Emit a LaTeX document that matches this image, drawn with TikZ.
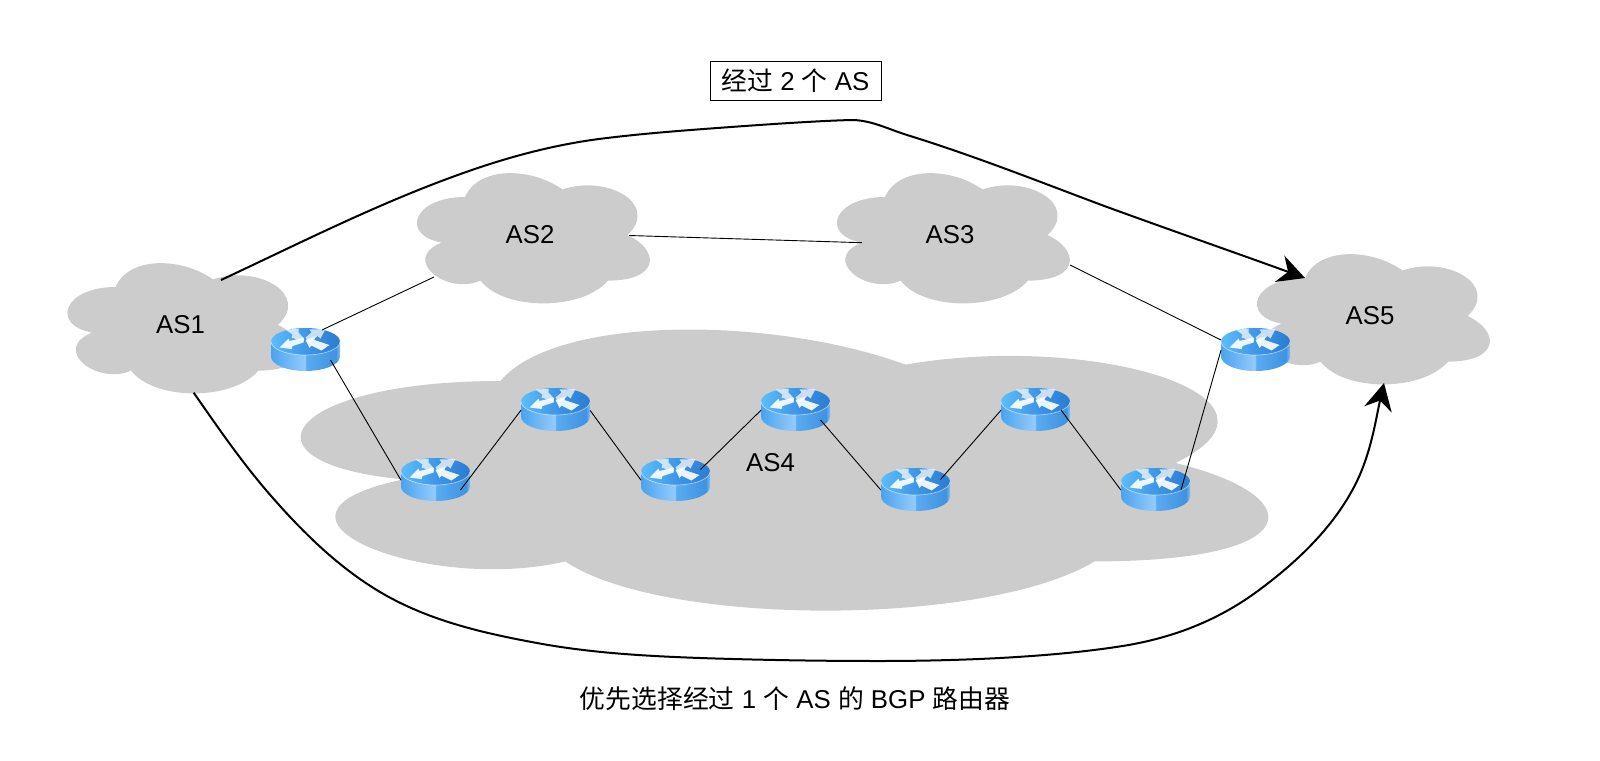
\documentclass[tikz,border=0pt]{standalone}
\usepackage{fontspec}
\setmainfont{Liberation Sans}
\newfontfamily\cjk{Noto Sans CJK SC}
\usetikzlibrary{arrows.meta}

\definecolor{cloudgray}{HTML}{CCCCCC}
\definecolor{routerA}{HTML}{4AA3EF}
\definecolor{routerB}{HTML}{93CBFB}
\definecolor{routerC}{HTML}{5AABF0}
\definecolor{routerD}{HTML}{3F97E8}
\definecolor{routerE}{HTML}{3F93E0}
\definecolor{routerF}{HTML}{5CBDFB}
\definecolor{routerG}{HTML}{2A7CD0}
\definecolor{routerH}{HTML}{86BFF2}

\pgfdeclarehorizontalshading{routerside}{100bp}{color(0bp)=(routerA); color(25bp)=(routerA); color(49.5bp)=(routerB); color(50.5bp)=(routerC); color(72bp)=(routerE); color(75bp)=(routerH); color(100bp)=(routerH)}
\pgfdeclarehorizontalshading{routertop}{100bp}{color(0bp)=(routerF); color(25bp)=(routerF); color(50bp)=(routerD); color(75bp)=(routerG); color(100bp)=(routerG)}

\tikzset{
    link/.style={black, line width=0.9pt},
    route/.style={black, line width=2pt, -{Stealth[length=27pt,width=28pt,inset=9pt]}},
    aslabel/.style={font=\fontsize{25.8}{30}\selectfont, inner sep=0pt},
    routerarrow/.style={fill=white, fill opacity=0.9},
    router/.pic={
        \shade[shading=routerside] (-34.5,-8) -- (-34.5,7)
            arc[start angle=180, end angle=0, x radius=34.5, y radius=14.5]
            -- (34.5,-8) -- cycle;
        \shade[shading=routertop] (0,-8) ellipse[x radius=34.5, y radius=13.5];
        \draw[white, opacity=0.55, line width=0.7pt] (-34.5,-8)
            arc[start angle=180, end angle=0, x radius=34.5, y radius=13.5];
        \fill[routerarrow, fill opacity=0.72] (-20,-20) -- (-7,-20.5) -- (-7,-17) -- (-1.5,-11) -- (-2,-8) -- (-14,-12) -- (-13,-15) -- cycle;
        \fill[routerarrow, fill opacity=0.72] (0,-12) -- (6,-17) -- (4,-20) -- (20,-20.5) -- (15,-11) -- (12,-13.5) -- (4,-6.5) -- cycle;
        \fill[routerarrow] (-26,-2) -- (-17,-11) -- (-16,-8.5) -- (-2,-12) -- (-2,-7) -- (-13,-3.5) -- (-14,-0.5) -- cycle;
        \fill[routerarrow] (0,-9.5) -- (10,-13) -- (9,-9.5) -- (24,-4.5) -- (16,1) -- (6,-4) -- (4,-1.5) -- cycle;
        \coordinate (-west) at (-34.5,0.7);
        \coordinate (-nwest) at (-34.5,-9.5);
        \coordinate (-top) at (16.5,-19.5);
        \coordinate (-east) at (34.7,1);
        \coordinate (-ne) at (25,-10);
        \coordinate (-mid) at (25.5,0.5);
        \coordinate (-se) at (25,10.5);
    }
}

% cloud: name, centre x, centre y, width, height, text
\newcommand{\ascloud}[6]{
    \begin{scope}[shift={(#2,#3)}, x=#4pt, y=-#5pt, shift={(-0.5,-0.5)}]
        \fill[cloudgray] (0.25,0.25)
            .. controls (0.05,0.25) and (0,0.5) .. (0.16,0.55)
            .. controls (0,0.66) and (0.18,0.9) .. (0.31,0.8)
            .. controls (0.4,1) and (0.7,1) .. (0.8,0.8)
            .. controls (1,0.8) and (1,0.6) .. (0.875,0.5)
            .. controls (1,0.3) and (0.8,0.1) .. (0.625,0.2)
            .. controls (0.5,0.05) and (0.3,0.05) .. (0.25,0.25) -- cycle;
    \end{scope}
    \node[aslabel] (#1) at (#2,#3) {#6};
}

\begin{document}
\begin{tikzpicture}[x=1pt, y=-1pt]

    \useasboundingbox (0,0) rectangle (1600,760);

    \ascloud{as4}{770.5}{463}{1080}{328}{AS4}
    \ascloud{as1}{180.5}{325}{260}{152}{AS1}
    \ascloud{as2}{530}{235}{260}{152}{AS2}
    \ascloud{as3}{950}{235}{260}{152}{AS3}
    \ascloud{as5}{1370}{316}{260}{152}{AS5}

    % #######################################

    \pic (r0) at (305.5,349.5) {router};
    \pic (r1) at (435.5,479.5) {router};
    \pic (r2) at (555.5,409.5) {router};
    \pic (r3) at (675.5,479.5) {router};
    \pic (r4) at (795.5,409.5) {router};
    \pic (r5) at (915.5,489.5) {router};
    \pic (r6) at (1035.5,409.5) {router};
    \pic (r7) at (1155.5,489.5) {router};
    \pic (r8) at (1255.5,349.5) {router};

    % #######################################

    \coordinate (as1top) at (221,280);
    \coordinate (as1bot) at (193.7,392.7);
    \coordinate (as2west) at (434,277);
    \coordinate (as2east) at (629,235.5);
    \coordinate (as3west) at (862,242.7);
    \coordinate (as3east) at (1070,265);
    \coordinate (as5west) at (1305,278);
    \coordinate (as5bot) at (1384,383);

    \draw[link] (r0-top) -- (as2west);
    \draw[link] (as2east) -- (as3west);
    \draw[link] (as3east) -- (r8-nwest);

    \draw[link] (r0-se) -- (r1-west);
    \draw[link] (r1-se) -- (r2-west);
    \draw[link] (r2-east) -- (r3-west);
    \draw[link] (r3-ne) -- (r4-west);
    \draw[link] (r4-se) -- (r5-west);
    \draw[link] (r5-ne) -- (r6-west);
    \draw[link] (r6-mid) -- (r7-west);
    \draw[link] (r7-mid) -- (r8-west);

    % #######################################

    \draw[route] (as1top) .. controls (298,244) and (375,205) .. (455,176)
        .. controls (504,158) and (555,144) .. (607,138)
        .. controls (648,133) and (690,130) .. (731,127)
        .. controls (772,124) and (825,120.5) .. (853,120)
        .. controls (872,120.5) and (889,129.4) .. (907,135)
        .. controls (975,156) and (1040,182) .. (1107,207)
        .. controls (1173,231) and (1239,254) .. (as5west);

    \draw[route] (as1bot) .. controls (219,429) and (243,464) .. (272,497)
        .. controls (307,537) and (347,575.5) .. (394.5,600)
        .. controls (439,623) and (488,634) .. (537,643)
        .. controls (591,653) and (645,656) .. (700,658)
        .. controls (760,660) and (819,661) .. (879,661)
        .. controls (958,661) and (1046,657.5) .. (1116,647)
        .. controls (1165,640) and (1212,624) .. (1255,593)
        .. controls (1295,564) and (1332,529) .. (1354,487)
        .. controls (1371,455) and (1376,418) .. (as5bot);

    % #######################################

    \node[aslabel, draw, line width=0.8pt, minimum width=171pt, minimum height=39pt] (title) at (795.5,80.5) {{\cjk 经过} 2 {\cjk 个} AS};
    \node[aslabel] (caption) at (795,699) {{\cjk 优先选择经过} 1 {\cjk 个} AS {\cjk 的} BGP {\cjk 路由器}};

\end{tikzpicture}
\end{document}
